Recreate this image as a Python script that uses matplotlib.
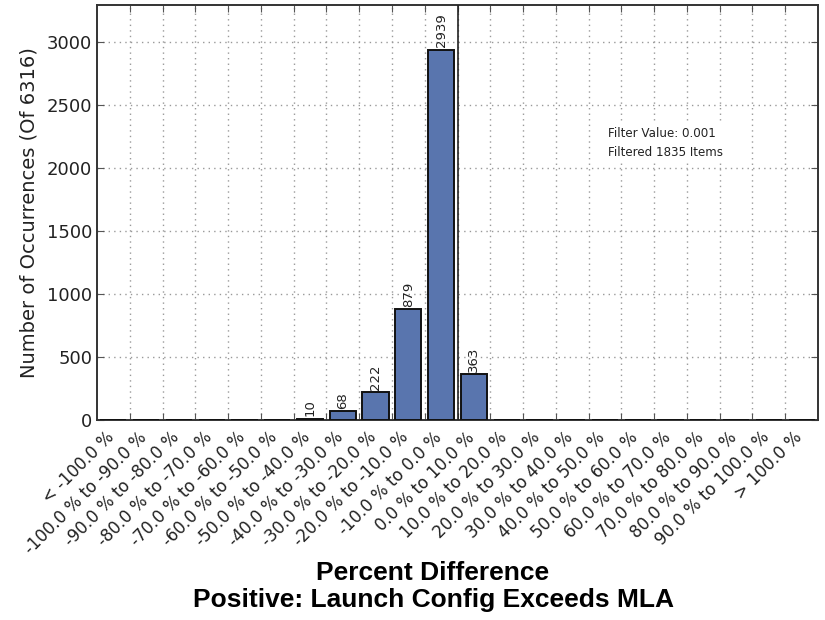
import matplotlib
matplotlib.use("Agg")
import matplotlib.pyplot as plt
import matplotlib.transforms as mtransforms
import numpy as np

categories = ["< -100.0 %"] + [f"{a:.1f} % to {a+10:.1f} %" for a in range(-100, 100, 10)] + ["> 100.0 %"]
counts = [0, 0, 0, 0, 0, 0, 10, 68, 222, 879, 2939, 363, 0, 0, 0, 0, 0, 0, 0, 0, 0, 0]
y_ticks = [0, 500, 1000, 1500, 2000, 2500, 3000]
total_items = 6316
filter_value = 0.001
filtered_items = 1835

W, H = 825, 620
fig = plt.figure(figsize=(W / 100, H / 100), dpi=100)
ax = fig.add_axes([97 / W, 1 - 420 / H, 721 / W, 415 / H])

n = len(categories)
centers = np.arange(n) + 0.5
ax.bar(centers, counts, width=0.8, color="#5975AE", edgecolor="#111111", linewidth=1.4, zorder=3)
for x, v in zip(centers, counts):
    if v > 0:
        ax.text(x, v + 20, str(v), rotation=90, ha="center", va="bottom", fontsize=9.5, color="#222222", zorder=4)

ax.axvline(11, color="#222222", linewidth=1.2, zorder=4)

ax.set_xlim(0, n)
ax.set_ylim(0, 3293)
ax.set_yticks(y_ticks)
ax.set_yticklabels([str(t) for t in y_ticks], fontsize=13, color="#222222")

ax.set_xticks(np.arange(1, n))
ax.set_xticklabels([])
ax.set_xticks(centers, minor=True)
ax.set_xticklabels(categories, minor=True, rotation=45, ha="right", fontsize=12, color="#222222")
ax.tick_params(axis="x", which="minor", length=0, pad=6)
ax.tick_params(axis="both", which="major", direction="in", length=5, top=True, right=True, color="#555555")
offset = mtransforms.ScaledTranslation(4 / 100, 0, fig.dpi_scale_trans)
for lbl in ax.get_xticklabels(minor=True):
    lbl.set_transform(lbl.get_transform() + offset)

ax.grid(True, which="major", linestyle=(0, (1, 3)), color="#999999", linewidth=1.0, zorder=0)
ax.set_axisbelow(True)
for s in ax.spines.values():
    s.set_color("#333333")
    s.set_linewidth(1.4)

ax.set_ylabel(f"Number of Occurrences (Of {total_items})", fontsize=14, color="#222222", labelpad=6)

fig.text(608 / W, 1 - 127 / H, f"Filter Value: {filter_value}\nFiltered {filtered_items} Items", fontsize=8.6,
         color="#222222", va="top", ha="left", linespacing=1.6, zorder=5,
         bbox=dict(facecolor="white", edgecolor="none", pad=2))

fig.text(433 / W, 1 - 573 / H, "Percent Difference", ha="center", va="center",
         fontsize=19, fontweight="bold", family="Liberation Sans")
fig.text(433 / W, 1 - 600 / H, "Positive: Launch Config Exceeds MLA", ha="center", va="center",
         fontsize=19, fontweight="bold", family="Liberation Sans")

fig.savefig("out.png", dpi=100)
